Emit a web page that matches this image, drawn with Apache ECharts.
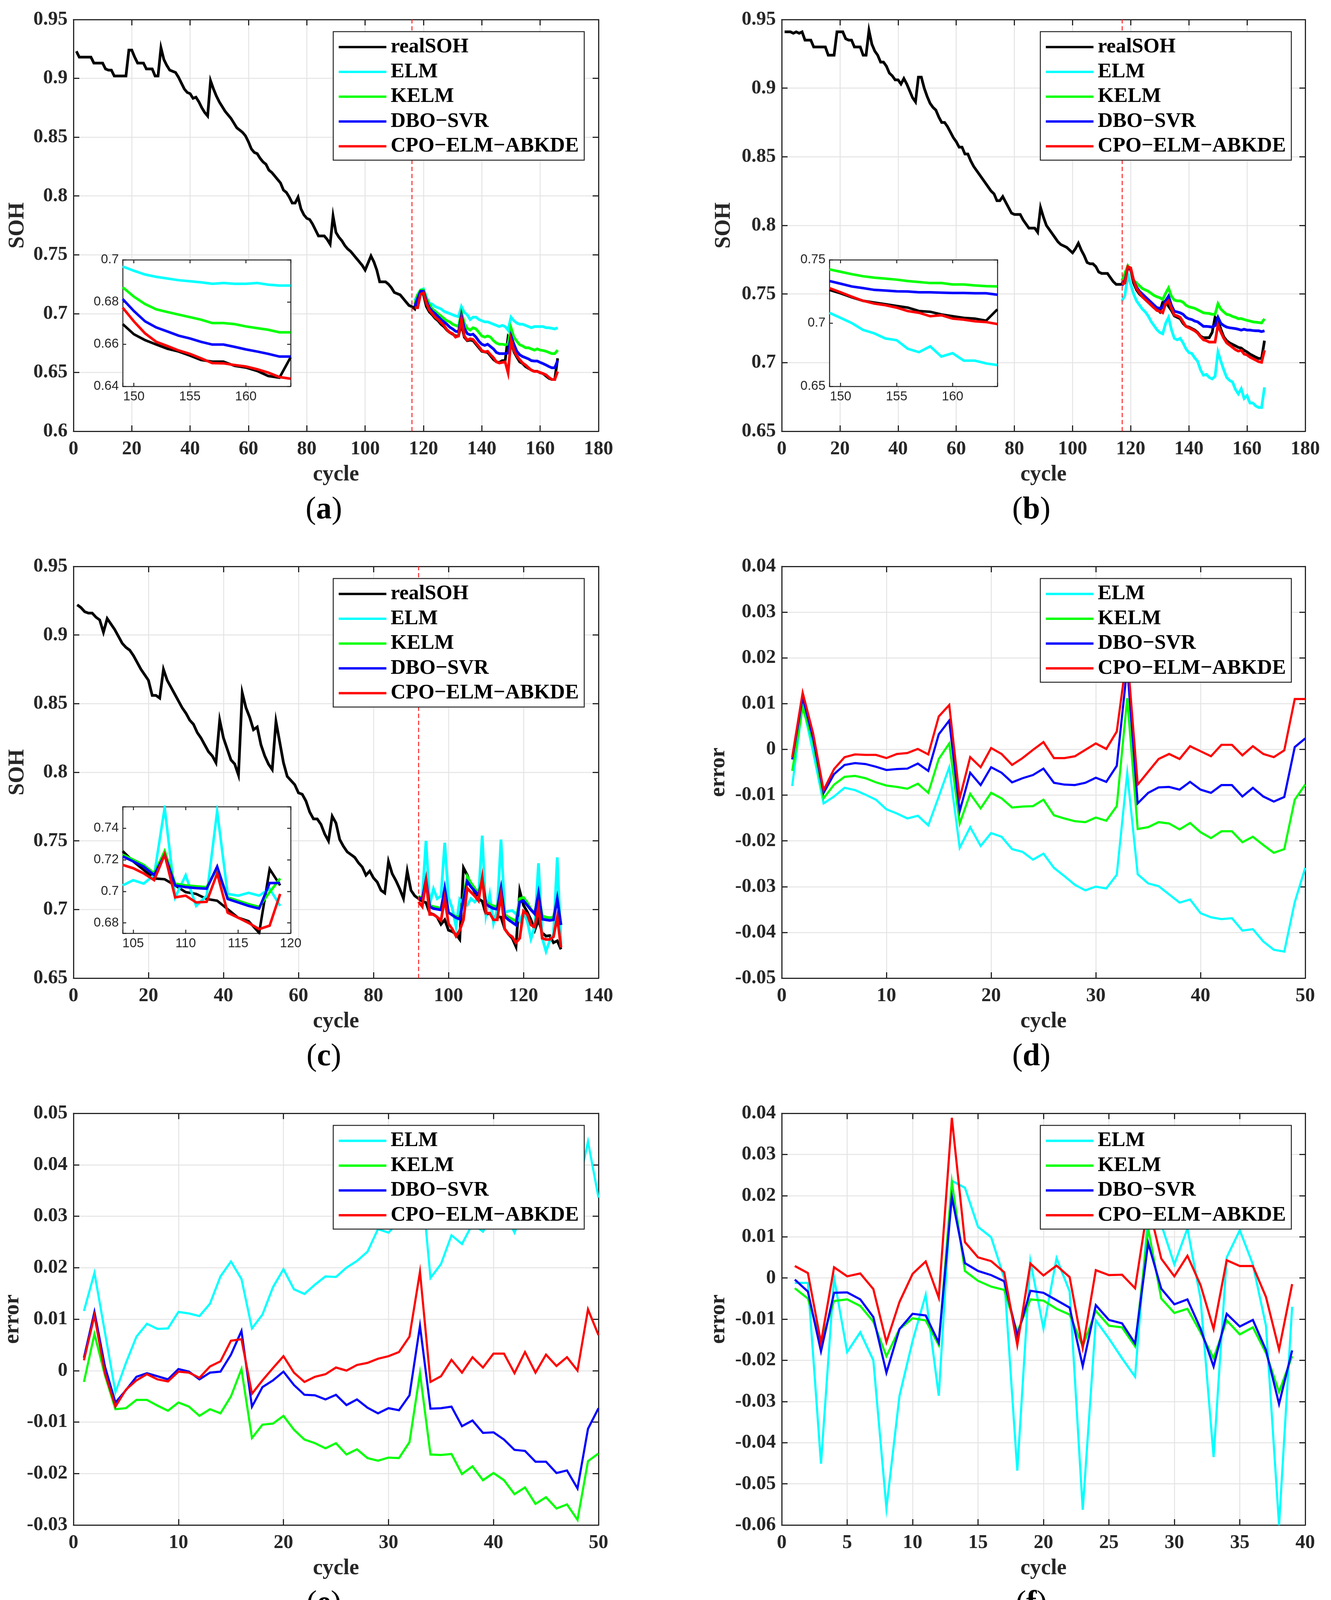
<!DOCTYPE html>
<html>
<head>
<meta charset="utf-8">
<script src="https://cdn.jsdelivr.net/npm/echarts@6/dist/echarts.min.js"></script>
<style>
html,body{margin:0;padding:0;background:#ffffff;}
#chart{width:3407px;height:4162px;}
</style>
</head>
<body>
<div id="chart"></div>
<script>
// ---------------- DATA ----------------
const seriesNames = ['realSOH', 'ELM', 'KELM', 'DBO\u2212SVR', 'CPO\u2212ELM\u2212ABKDE'];
const errorNames = ['ELM', 'KELM', 'DBO\u2212SVR', 'CPO\u2212ELM\u2212ABKDE'];
const panelLetters = ['a', 'b', 'c', 'd', 'e', 'f'];

// (a) real SOH, cycles 1..166
const realA = [
0.923,0.918,0.918,0.918,0.918,0.918,0.913,0.913,0.913,0.913,
0.908,0.907,0.907,0.902,0.902,0.902,0.902,0.902,0.924,0.924,
0.918,0.913,0.913,0.913,0.908,0.908,0.908,0.902,0.902,0.926,
0.916,0.911,0.907,0.906,0.905,0.901,0.896,0.891,0.888,0.887,
0.883,0.884,0.880,0.875,0.871,0.868,0.898,0.891,0.885,0.880,
0.876,0.872,0.869,0.866,0.862,0.858,0.856,0.854,0.851,0.846,
0.840,0.837,0.836,0.832,0.829,0.827,0.822,0.820,0.817,0.814,
0.811,0.805,0.803,0.799,0.794,0.794,0.799,0.789,0.784,0.781,
0.780,0.776,0.771,0.766,0.766,0.766,0.763,0.759,0.783,0.769,
0.765,0.762,0.758,0.755,0.753,0.750,0.747,0.744,0.741,0.737,
0.743,0.749,0.744,0.737,0.727,0.727,0.727,0.725,0.722,0.718,
0.717,0.716,0.713,0.710,0.707,0.706,
0.704,0.716,0.719,0.716,0.706,0.7015,0.699,0.696,0.694,0.691,
0.689,0.686,0.684,0.6825,0.681,0.681,0.691,0.680,0.677,0.6775,
0.677,0.674,0.671,0.668,0.6675,0.667,0.664,0.661,0.659,0.6585,
0.660,0.660,0.680,0.676,0.6675,0.663,0.659,0.6575,0.655,0.6535,
0.652,0.651,0.651,0.6497,0.649,0.647,0.645,0.644,0.644,0.662];
const predStartA = 117;
const elmA = [
0.711,0.716,0.720,0.721,0.714,0.709,0.708,0.706,0.705,0.704,
0.702,0.701,0.700,0.699,0.698,0.6975,0.706,0.701,0.699,0.695,
0.697,0.697,0.695,0.694,0.693,0.693,0.692,0.691,0.690,0.689,
0.690,0.689,0.686,0.697,0.694,0.692,0.691,0.691,0.690,0.689,
0.688,0.689,0.689,0.689,0.689,0.688,0.688,0.6875,0.687,0.688];
const kelmA = [
0.708,0.716,0.720,0.720,0.713,0.708,0.704,0.702,0.700,0.698,
0.696,0.694,0.693,0.691,0.690,0.689,0.701,0.692,0.6875,0.686,
0.688,0.687,0.684,0.681,0.680,0.681,0.680,0.677,0.675,0.674,
0.674,0.6735,0.674,0.688,0.680,0.6765,0.6735,0.6725,0.671,0.671,
0.670,0.669,0.670,0.669,0.6686,0.668,0.667,0.666,0.666,0.669];
const dboA = [
0.706,0.713,0.719,0.719,0.711,0.705,0.702,0.700,0.6975,0.695,
0.693,0.691,0.6885,0.687,0.685,0.6845,0.6985,0.6875,0.683,0.682,
0.6825,0.680,0.6765,0.674,0.673,0.674,0.672,0.670,0.667,0.666,
0.666,0.666,0.6665,0.681,0.674,0.668,0.665,0.6635,0.6625,0.6615,
0.660,0.6597,0.6597,0.6585,0.6575,0.6563,0.655,0.654,0.654,0.660];
const cpoA = [
0.705,0.705,0.7165,0.7176,0.709,0.703,0.700,0.697,0.695,0.6925,
0.690,0.6865,0.684,0.683,0.680,0.681,0.6953,0.681,0.6775,0.6786,
0.678,0.675,0.672,0.6686,0.6675,0.668,0.665,0.6625,0.659,0.658,
0.6585,0.659,0.6497,0.6775,0.6686,0.6641,0.6608,0.658,0.6563,0.654,
0.6519,0.6508,0.6508,0.650,0.649,0.648,0.6458,0.644,0.644,0.6508];

// (b) real SOH, cycles 1..166
const realB = [
0.941,0.941,0.941,0.940,0.941,0.940,0.941,0.935,0.935,0.935,
0.930,0.930,0.930,0.930,0.930,0.924,0.924,0.924,0.941,0.941,
0.941,0.936,0.935,0.935,0.930,0.930,0.930,0.924,0.924,0.942,
0.932,0.927,0.924,0.919,0.919,0.916,0.911,0.909,0.906,0.906,
0.903,0.907,0.903,0.898,0.893,0.890,0.908,0.908,0.900,0.894,
0.889,0.886,0.884,0.879,0.875,0.875,0.872,0.868,0.864,0.861,
0.857,0.857,0.852,0.852,0.847,0.843,0.840,0.837,0.834,0.831,
0.828,0.825,0.823,0.818,0.818,0.821,0.817,0.813,0.809,0.808,
0.808,0.808,0.804,0.801,0.798,0.798,0.798,0.795,0.813,0.806,
0.800,0.797,0.794,0.791,0.788,0.786,0.785,0.784,0.782,0.780,
0.783,0.787,0.782,0.778,0.773,0.772,0.772,0.770,0.766,0.765,
0.765,0.765,0.762,0.759,0.757,0.757,0.757,
0.765,0.770,0.767,0.758,0.753,0.750,0.748,0.746,0.744,0.742,
0.740,0.739,0.737,0.744,0.745,0.741,0.738,0.7341,0.733,0.732,
0.7286,0.7264,0.7259,0.7248,0.7237,0.722,0.7193,0.7182,0.7182,0.7182,
0.722,0.733,0.7308,0.7243,0.7188,0.716,0.7144,0.7133,0.7122,0.7111,
0.7106,0.709,0.7078,0.7062,0.7051,0.704,0.703,0.703,0.716];
const predStartB = 117;
const elmB = [
0.745,0.749,0.764,0.757,0.750,0.745,0.742,0.739,0.737,0.734,
0.730,0.727,0.724,0.722,0.721,0.7286,0.733,0.724,0.7177,0.7166,
0.7177,0.7144,0.710,0.7073,0.7067,0.7035,0.701,0.6947,0.6908,0.6914,
0.6892,0.6881,0.690,0.7078,0.701,0.6947,0.6892,0.687,0.6859,0.6805,
0.6772,0.681,0.6739,0.676,0.6706,0.6706,0.6684,0.6673,0.6673,0.682];
const kelmB = [
0.760,0.765,0.7705,0.767,0.760,0.758,0.756,0.754,0.753,0.752,
0.7505,0.749,0.748,0.7473,0.746,0.7505,0.7544,0.7484,0.7456,0.745,
0.745,0.744,0.7418,0.7407,0.7401,0.7396,0.7385,0.7374,0.7363,0.736,
0.7358,0.7352,0.7352,0.7429,0.739,0.7369,0.7352,0.7347,0.7336,0.733,
0.732,0.7321,0.7314,0.7308,0.7303,0.7297,0.7295,0.7292,0.7289,0.732];
const dboB = [
0.756,0.760,0.769,0.768,0.760,0.755,0.752,0.750,0.748,0.746,
0.744,0.742,0.740,0.7396,0.7401,0.745,0.7484,0.7418,0.7374,0.7369,
0.7363,0.7352,0.733,0.7319,0.7314,0.7303,0.7297,0.7281,0.7264,0.7264,
0.7262,0.7259,0.727,0.733,0.7286,0.727,0.7259,0.7254,0.7251,0.7248,
0.7243,0.7237,0.7243,0.7237,0.7237,0.7234,0.7232,0.7232,0.7226,0.7232];
const cpoB = [
0.757,0.758,0.770,0.769,0.760,0.754,0.751,0.748,0.746,0.744,
0.742,0.740,0.738,0.7374,0.7363,0.7429,0.745,0.7396,0.7347,0.7341,
0.733,0.7297,0.7264,0.7254,0.7243,0.7232,0.7215,0.7188,0.7166,0.716,
0.715,0.715,0.715,0.7275,0.7221,0.7177,0.7144,0.7128,0.7111,0.7095,
0.7084,0.709,0.7062,0.7056,0.704,0.7029,0.7018,0.7007,0.7002,0.709];

// (c) real SOH, cycles 1..130
const realC = [
0.922,0.920,0.917,0.916,0.916,0.913,0.911,0.902,0.912,0.908,
0.904,0.899,0.894,0.891,0.889,0.885,0.880,0.875,0.871,0.867,
0.856,0.856,0.854,0.875,0.867,0.862,0.857,0.852,0.847,0.843,
0.838,0.835,0.829,0.825,0.820,0.815,0.812,0.807,0.838,0.825,
0.817,0.809,0.806,0.798,0.858,0.847,0.840,0.831,0.833,0.820,
0.812,0.806,0.802,0.837,0.822,0.807,0.797,0.794,0.791,0.785,
0.784,0.779,0.771,0.766,0.766,0.762,0.755,0.750,0.768,0.763,
0.751,0.746,0.742,0.740,0.738,0.734,0.731,0.725,0.728,0.723,
0.720,0.714,0.712,0.735,0.726,0.721,0.715,0.708,0.728,0.714,
0.710,0.708,
0.706,0.705,0.6973,0.6964,0.6944,0.6892,0.6925,0.6849,0.6839,0.682,
0.6782,0.7304,0.7251,0.7174,0.7126,0.7079,0.706,0.6964,0.6973,0.6944,
0.6949,0.6944,0.6858,0.682,0.6791,0.6729,0.7136,0.7031,0.6983,0.6925,
0.6849,0.6925,0.683,0.6806,0.681,0.6758,0.6772,0.671];
const predStartC = 92;
const elmC = [
0.7088,0.7079,0.750,0.704,0.715,0.7079,0.7098,0.7486,0.7088,0.7011,
0.6877,0.7074,0.704,0.7031,0.7079,0.7055,0.7088,0.7538,0.6964,0.7107,
0.6901,0.7002,0.751,0.6978,0.6988,0.6992,0.6968,0.6916,0.6978,0.6916,
0.6786,0.6877,0.7337,0.6791,0.6695,0.6772,0.682,0.738,0.6743];
const kelmC = [
0.7098,0.7079,0.7203,0.7031,0.7021,0.7016,0.7007,0.7136,0.6978,0.6964,
0.6949,0.6944,0.7088,0.7241,0.7193,0.7155,0.7117,0.7222,0.7059,0.7035,
0.7026,0.7021,0.7155,0.6964,0.6944,0.693,0.6916,0.7079,0.7088,0.705,
0.7002,0.6973,0.7117,0.6954,0.6944,0.694,0.6944,0.7079,0.6887];
const dboC = [
0.7088,0.7074,0.7217,0.7021,0.7007,0.7002,0.6997,0.7155,0.6978,0.6959,
0.694,0.693,0.7074,0.7203,0.7165,0.7136,0.7103,0.7213,0.704,0.7021,
0.7007,0.7002,0.7155,0.6949,0.6925,0.6906,0.6887,0.7055,0.7064,0.7031,
0.6997,0.6968,0.7117,0.693,0.6925,0.6921,0.6925,0.7079,0.6887];
const cpoC = [
0.7056,0.7021,0.7208,0.6964,0.6964,0.6944,0.692,0.7079,0.6897,0.6858,
0.6806,0.6849,0.6925,0.7155,0.7126,0.7098,0.7064,0.7232,0.6973,0.6973,
0.6925,0.6925,0.7107,0.6858,0.682,0.6801,0.6758,0.6791,0.6988,0.6964,
0.6887,0.6873,0.7016,0.6791,0.6782,0.6782,0.6801,0.6944,0.6724];

// insets
const insetStartA = 149;
const insetRealA = [0.6695,0.6647,0.6619,0.6598,0.6578,0.6565,0.6546,0.6525,0.6517,0.6517,0.6497,0.6489,0.6473,0.6449,0.6441,0.6538];
const insetElmA  = [0.6968,0.6948,0.6930,0.6919,0.6911,0.6903,0.6898,0.6893,0.6886,0.6890,0.6886,0.6886,0.6890,0.6882,0.6878,0.6878];
const insetKelmA = [0.6870,0.6825,0.6790,0.6765,0.6752,0.6740,0.6728,0.6716,0.6700,0.6700,0.6695,0.6684,0.6676,0.6668,0.6656,0.6656];
const insetDboA  = [0.6814,0.6757,0.6708,0.6679,0.6660,0.6640,0.6627,0.6611,0.6598,0.6598,0.6587,0.6575,0.6565,0.6554,0.6541,0.6541];
const insetCpoA  = [0.6773,0.6708,0.6651,0.6611,0.6591,0.6570,0.6554,0.6533,0.6510,0.6509,0.6501,0.6494,0.6481,0.6465,0.6444,0.6436];

const insetStartB = 149;
const insetRealB = [0.7262,0.7235,0.7203,0.7176,0.7162,0.7149,0.7135,0.7122,0.7095,0.7089,0.7068,0.7054,0.7041,0.7035,0.7019,0.7108];
const insetElmB  = [0.7081,0.7041,0.7000,0.6946,0.6919,0.6878,0.6865,0.6797,0.6770,0.6816,0.6735,0.6762,0.6703,0.6703,0.6681,0.6668];
const insetKelmB = [0.7424,0.7405,0.7386,0.7370,0.7359,0.7351,0.7343,0.7332,0.7324,0.7316,0.7316,0.7305,0.7305,0.7297,0.7292,0.7289];
const insetDboB  = [0.7332,0.7311,0.7289,0.7276,0.7262,0.7257,0.7251,0.7249,0.7243,0.7243,0.7240,0.7238,0.7238,0.7235,0.7235,0.7224];
const insetCpoB  = [0.7276,0.7243,0.7208,0.7176,0.7154,0.7141,0.7122,0.7095,0.7081,0.7054,0.7062,0.7035,0.7027,0.7014,0.7008,0.6992];

const insetStartC = 104;
const insetRealC = [0.7255,0.7190,0.7136,0.7082,0.7077,0.7038,0.6995,0.6984,0.6952,0.6941,0.6887,0.6833,0.6811,0.6737,0.7142,0.7038];
const insetElmC  = [0.7038,0.7071,0.7049,0.7103,0.7530,0.6962,0.7103,0.6908,0.6973,0.7508,0.6984,0.6973,0.6991,0.6973,0.7017,0.6908];
const insetKelmC = [0.7233,0.7201,0.7168,0.7114,0.7255,0.7049,0.7038,0.7032,0.7027,0.7147,0.6962,0.6941,0.6919,0.6902,0.6995,0.7082];
const insetDboC  = [0.7222,0.7190,0.7157,0.7103,0.7233,0.7038,0.7027,0.7021,0.7017,0.7157,0.6952,0.6930,0.6908,0.6891,0.7053,0.7053];
const insetCpoC  = [0.7168,0.7147,0.7114,0.7071,0.7233,0.6962,0.6973,0.6930,0.6934,0.7114,0.6865,0.6833,0.6800,0.6761,0.6783,0.6984];

// (d) errors, 50 points
const elmErrD = [
-0.0080,0.0098,-0.0006,-0.0118,-0.0103,-0.0084,-0.0089,-0.0099,-0.0110,-0.0131,
-0.0140,-0.0151,-0.0145,-0.0166,-0.0103,-0.0039,-0.0215,-0.0170,-0.0211,-0.0183,
-0.0191,-0.0218,-0.0224,-0.0241,-0.0228,-0.0259,-0.0277,-0.0296,-0.0308,-0.0300,
-0.0304,-0.0274,-0.0052,-0.0273,-0.0293,-0.0299,-0.0317,-0.0335,-0.0328,-0.0358,
-0.0367,-0.0371,-0.0369,-0.0396,-0.0393,-0.0420,-0.0438,-0.0442,-0.0334,-0.0259];
const kelmErrD = [
-0.0047,0.0091,0.0016,-0.0107,-0.0077,-0.0060,-0.0058,-0.0063,-0.0072,-0.0079,
-0.0082,-0.0086,-0.0075,-0.0095,-0.0021,0.0013,-0.0162,-0.0097,-0.0129,-0.0095,
-0.0107,-0.0127,-0.0125,-0.0124,-0.0110,-0.0144,-0.0151,-0.0157,-0.0159,-0.0149,
-0.0156,-0.0124,0.0112,-0.0174,-0.0170,-0.0159,-0.0162,-0.0175,-0.0161,-0.0181,
-0.0194,-0.0179,-0.0179,-0.0203,-0.0191,-0.0209,-0.0226,-0.0218,-0.0110,-0.0077];
const dboErrD = [
-0.0022,0.0113,0.0024,-0.0095,-0.0054,-0.0034,-0.0030,-0.0032,-0.0038,-0.0045,
-0.0043,-0.0042,-0.0031,-0.0047,0.0033,0.0063,-0.0135,-0.0051,-0.0078,-0.0039,
-0.0051,-0.0072,-0.0063,-0.0056,-0.0042,-0.0073,-0.0077,-0.0078,-0.0073,-0.0062,
-0.0071,-0.0036,0.0180,-0.0118,-0.0095,-0.0083,-0.0082,-0.0088,-0.0071,-0.0088,
-0.0095,-0.0078,-0.0078,-0.0103,-0.0084,-0.0103,-0.0114,-0.0104,0.0005,0.0024];
const cpoErrD = [
-0.0017,0.0124,0.0035,-0.0089,-0.0043,-0.0017,-0.0011,-0.0012,-0.0012,-0.0019,
-0.0010,-0.0008,0.0001,-0.0011,0.0072,0.0097,-0.0107,-0.0017,-0.0039,0.0003,
-0.0010,-0.0034,-0.0019,-0.0001,0.0016,-0.0019,-0.0019,-0.0015,-0.0001,0.0013,
0.0001,0.0039,0.0210,-0.0077,-0.0049,-0.0021,-0.0010,-0.0021,0.0007,-0.0004,
-0.0015,0.0010,0.0010,-0.0013,0.0007,-0.0010,-0.0017,-0.0002,0.0110,0.0110];

// (e) errors, 50 points
const elmErrE = [
0.0116,0.0190,0.0074,-0.0042,0.0015,0.0066,0.0091,0.0081,0.0082,0.0114,
0.0111,0.0106,0.0130,0.0183,0.0212,0.0178,0.0082,0.0109,0.0162,0.0197,
0.0158,0.0149,0.0167,0.0183,0.0182,0.0200,0.0213,0.0231,0.0275,0.0268,
0.0290,0.0310,0.0400,0.0180,0.0207,0.0263,0.0246,0.0285,0.0270,0.0305,
0.0310,0.0268,0.0320,0.0330,0.0335,0.0345,0.0355,0.0350,0.0445,0.0336];
const kelmErrE = [
-0.0022,0.0071,-0.0009,-0.0075,-0.0073,-0.0057,-0.0057,-0.0068,-0.0078,-0.0062,
-0.0070,-0.0088,-0.0075,-0.0083,-0.0050,0.0003,-0.0131,-0.0105,-0.0103,-0.0088,
-0.0115,-0.0134,-0.0141,-0.0151,-0.0141,-0.0163,-0.0153,-0.0170,-0.0175,-0.0169,
-0.0170,-0.0139,-0.0005,-0.0163,-0.0164,-0.0162,-0.0201,-0.0186,-0.0213,-0.0199,
-0.0213,-0.0240,-0.0227,-0.0259,-0.0246,-0.0268,-0.0260,-0.0290,-0.0176,-0.0161];
const dboErrE = [
0.0025,0.0114,0.0008,-0.0062,-0.0038,-0.0012,-0.0005,-0.0011,-0.0017,0.0003,
-0.0002,-0.0017,-0.0004,-0.0002,0.0031,0.0077,-0.0070,-0.0032,-0.0019,-0.0002,
-0.0028,-0.0047,-0.0048,-0.0056,-0.0047,-0.0067,-0.0056,-0.0072,-0.0083,-0.0073,
-0.0077,-0.0048,0.0087,-0.0074,-0.0073,-0.0070,-0.0108,-0.0097,-0.0121,-0.0120,
-0.0134,-0.0154,-0.0156,-0.0177,-0.0177,-0.0199,-0.0194,-0.0229,-0.0113,-0.0073];
const cpoErrE = [
0.0020,0.0107,-0.0005,-0.0070,-0.0037,-0.0019,-0.0007,-0.0017,-0.0021,-0.0002,
-0.0004,-0.0014,0.0008,0.0018,0.0058,0.0061,-0.0045,-0.0019,0.0005,0.0028,
-0.0004,-0.0022,-0.0012,-0.0007,0.0006,0.0000,0.0011,0.0015,0.0023,0.0028,
0.0036,0.0066,0.0192,-0.0022,-0.0011,0.0021,-0.0004,0.0026,0.0006,0.0033,
0.0033,-0.0005,0.0036,-0.0004,0.0031,0.0009,0.0026,0.0000,0.0119,0.0069];

// (f) errors, 39 points
const elmErrF = [
-0.0012,-0.0012,-0.0451,0.0000,-0.0180,-0.0132,-0.0200,-0.0559,-0.0286,-0.0153,
-0.0041,-0.0286,0.0236,0.0219,0.0124,0.0099,0.0000,-0.0468,0.0041,-0.0123,
0.0048,-0.0033,-0.0563,-0.0103,-0.0147,-0.0195,-0.0240,0.0160,0.0130,0.0033,
0.0120,-0.0050,-0.0435,0.0050,0.0116,0.0033,-0.0116,-0.0600,-0.0070];
const kelmErrF = [
-0.0025,-0.0050,-0.0157,-0.0056,-0.0052,-0.0068,-0.0106,-0.0190,-0.0124,-0.0098,
-0.0103,-0.0163,0.0233,0.0017,-0.0007,-0.0021,-0.0029,-0.0132,-0.0052,-0.0055,
-0.0075,-0.0089,-0.0166,-0.0080,-0.0116,-0.0120,-0.0166,0.0120,-0.0050,-0.0085,
-0.0075,-0.0132,-0.0195,-0.0103,-0.0137,-0.0120,-0.0182,-0.0277,-0.0190];
const dboErrF = [
-0.0004,-0.0033,-0.0178,-0.0036,-0.0035,-0.0052,-0.0095,-0.0230,-0.0124,-0.0087,
-0.0091,-0.0157,0.0197,0.0036,0.0017,0.0007,-0.0008,-0.0141,-0.0031,-0.0036,
-0.0054,-0.0072,-0.0214,-0.0066,-0.0102,-0.0110,-0.0159,0.0085,-0.0026,-0.0064,
-0.0052,-0.0123,-0.0215,-0.0087,-0.0118,-0.0102,-0.0175,-0.0306,-0.0176];
const cpoErrF = [
0.0029,0.0012,-0.0157,0.0026,0.0004,0.0011,-0.0027,-0.0156,-0.0058,0.0010,
0.0040,-0.0048,0.0389,0.0087,0.0050,0.0041,0.0014,-0.0163,0.0035,0.0006,
0.0030,0.0002,-0.0170,0.0019,0.0007,0.0008,-0.0025,0.0180,0.0047,0.0004,
0.0054,-0.0017,-0.0124,0.0043,0.0029,0.0029,-0.0046,-0.0174,-0.0015];

// ---------------- STYLE / LAYOUT ----------------
const SERIF = '"Liberation Serif","Times New Roman",serif';
const SANS = '"Liberation Sans",Arial,sans-serif';
const AX = '#262626';
const GRIDC = '#e4e4e4';
const COLORS = ['#000000', '#00ffff', '#00ff00', '#0000ff', '#ff0000'];
const ERR_COLORS = COLORS.slice(1);
const COL_LEFT = [188, 2001];
const COL_WIDTH = [1344, 1340];
const ROW_TOP = [50, 1450, 2850];
const PLOT_H = 1054;

const option = {
  animation: false,
  backgroundColor: '#ffffff',
  grid: [], xAxis: [], yAxis: [], series: [], legend: [], graphic: []
};

function pairs(start, arr) { return arr.map((v, i) => [start + i, v]); }

function addBoxAxes(g, xr, yr, st) {
  const inset = !!st.inset;
  const ls = { color: AX, width: inset ? 2.5 : 3 };
  const tick = { show: true, inside: true, length: inset ? 9 : 15, lineStyle: ls };
  const lab = inset
    ? { fontFamily: SANS, fontSize: 33, fontWeight: 'normal', color: AX }
    : { fontFamily: SERIF, fontSize: 50, fontWeight: 'bold', color: AX };
  const split = { show: !inset, lineStyle: { color: GRIDC, width: 2.5 } };
  const z = inset ? 4 : 1;
  const nameStyle = { fontFamily: SERIF, fontSize: 56, fontWeight: 'bold', color: AX };
  const xi = option.xAxis.length, yi = option.yAxis.length;
  const xl = Object.assign({ show: true, margin: inset ? 10 : 21 }, lab);
  if (st.xFmt) xl.formatter = st.xFmt;
  const yl = Object.assign({ show: true, margin: inset ? 10 : 15 }, lab);
  if (st.yFmt) yl.formatter = st.yFmt;
  option.xAxis.push(Object.assign({
    type: 'value', gridIndex: g, position: 'bottom', z: z,
    axisLine: { show: true, onZero: false, lineStyle: ls }, axisTick: tick,
    axisLabel: xl, splitLine: split,
    name: st.xName || '', nameLocation: 'middle', nameGap: st.xNameGap || 0, nameTextStyle: nameStyle
  }, xr));
  option.xAxis.push(Object.assign({
    type: 'value', gridIndex: g, position: 'top', z: z,
    axisLine: { show: true, onZero: false, lineStyle: ls }, axisTick: tick,
    axisLabel: { show: false }, splitLine: { show: false }
  }, xr));
  option.yAxis.push(Object.assign({
    type: 'value', gridIndex: g, position: 'left', z: z,
    axisLine: { show: true, onZero: false, lineStyle: ls }, axisTick: tick,
    axisLabel: yl, splitLine: split,
    name: st.yName || '', nameLocation: 'middle', nameGap: st.yNameGap || 0, nameTextStyle: nameStyle
  }, yr));
  option.yAxis.push(Object.assign({
    type: 'value', gridIndex: g, position: 'right', z: z,
    axisLine: { show: true, onZero: false, lineStyle: ls }, axisTick: tick,
    axisLabel: { show: false }, splitLine: { show: false }
  }, yr));
  return [xi, yi];
}

function addLine(name, color, xi, yi, data, width, z, markLine) {
  const s = {
    type: 'line', name: name, xAxisIndex: xi, yAxisIndex: yi, data: data,
    showSymbol: false, symbol: 'none', color: color,
    lineStyle: { color: color, width: width, join: 'miter' },
    itemStyle: { color: color }, z: z, silent: true, clip: true,
    emphasis: { disabled: true }
  };
  if (markLine) s.markLine = markLine;
  option.series.push(s);
}

function addLegend(col, row, names) {
  option.legend.push({
    left: col === 0 ? 853 : 2663, top: ROW_TOP[row] + 31,
    orient: 'vertical', data: names, icon: 'rect',
    itemWidth: 122, itemHeight: 6, itemGap: 10.5,
    padding: [13, 14, 9, 14],
    borderColor: AX, borderWidth: 2.5, borderRadius: 0, backgroundColor: '#ffffff',
    selectedMode: false, z: 6,
    textStyle: { fontFamily: SERIF, fontSize: 53, fontWeight: 'bold', color: '#000000', lineHeight: 53, padding: [0, 0, 0, 6] }
  });
}

function addPanelLabel(col, row, letter) {
  option.graphic.push({
    type: 'text', z: 10,
    x: COL_LEFT[col] + COL_WIDTH[col] / 2 - 31, y: ROW_TOP[row] + 1256,
    style: {
      text: '{p|(}{b|' + letter + '}{p|)}', align: 'center', verticalAlign: 'middle',
      rich: {
        p: { fontFamily: SERIF, fontSize: 80, fontWeight: 'normal', fill: '#000000', color: '#000000' },
        b: { fontFamily: SERIF, fontSize: 80, fontWeight: 'bold', fill: '#000000', color: '#000000' }
      }
    }
  });
}

function sohPanel(col, row, letter, xMax, yMin, yNameGap, real, preds, predStart, splitAt) {
  const g = option.grid.length;
  option.grid.push({ left: COL_LEFT[col], top: ROW_TOP[row], width: COL_WIDTH[col], height: PLOT_H, show: false });
  const [xi, yi] = addBoxAxes(g,
    { min: 0, max: xMax, interval: 20 },
    { min: yMin, max: 0.95, interval: 0.05 },
    { xName: 'cycle', xNameGap: 84, yName: 'SOH', yNameGap: yNameGap });
  addLine(seriesNames[0], COLORS[0], xi, yi, pairs(1, real), 7, 2, {
    silent: true, symbol: ['none', 'none'], label: { show: false },
    lineStyle: { color: '#ff2020', type: [11, 7], width: 2.5 },
    data: [{ xAxis: splitAt }]
  });
  preds.forEach((arr, k) => addLine(seriesNames[k + 1], COLORS[k + 1], xi, yi, pairs(predStart, arr), 7, 2));
  addLegend(col, row, seriesNames);
  addPanelLabel(col, row, letter);
}

function errPanel(col, row, letter, xMax, xInt, yMin, yMax, yNameGap, errs) {
  const g = option.grid.length;
  option.grid.push({ left: COL_LEFT[col], top: ROW_TOP[row], width: COL_WIDTH[col], height: PLOT_H, show: false });
  const [xi, yi] = addBoxAxes(g,
    { min: 0, max: xMax, interval: xInt },
    { min: yMin, max: yMax, interval: 0.01 },
    { xName: 'cycle', xNameGap: 84, yName: 'error', yNameGap: yNameGap });
  errs.forEach((arr, k) => addLine(errorNames[k], ERR_COLORS[k], xi, yi, pairs(1, arr), 5.5, 2));
  addLegend(col, row, errorNames);
  addPanelLabel(col, row, letter);
}

function stepFmt(step, dec) {
  return function (v) {
    const r = v / step;
    if (Math.abs(r - Math.round(r)) > 1e-6) return '';
    return String(+v.toFixed(dec));
  };
}

function insetPanel(left, top, xMin, xMax, yMin, yMax, yStep, start, arrs) {
  const g = option.grid.length;
  option.grid.push({ left: left, top: top, width: 430, height: 324, show: true, backgroundColor: '#ffffff', borderWidth: 0, z: 3 });
  const [xi, yi] = addBoxAxes(g,
    { min: xMin, max: xMax, minInterval: 5, maxInterval: 5 },
    { min: yMin, max: yMax, minInterval: yStep, maxInterval: yStep },
    { inset: true, xFmt: stepFmt(5, 0), yFmt: stepFmt(yStep, 2) });
  arrs.forEach((arr, k) => addLine(seriesNames[k], COLORS[k], xi, yi, pairs(start, arr), 6.5, 5));
}

sohPanel(0, 0, panelLetters[0], 180, 0.6, 114, realA, [elmA, kelmA, dboA, cpoA], predStartA, 116);
sohPanel(1, 0, panelLetters[1], 180, 0.65, 119, realB, [elmB, kelmB, dboB, cpoB], predStartB, 117);
sohPanel(0, 1, panelLetters[2], 140, 0.65, 114, realC, [elmC, kelmC, dboC, cpoC], predStartC, 92);
errPanel(1, 1, panelLetters[3], 50, 10, -0.05, 0.04, 133, [elmErrD, kelmErrD, dboErrD, cpoErrD]);
errPanel(0, 2, panelLetters[4], 50, 10, -0.03, 0.05, 127, [elmErrE, kelmErrE, dboErrE, cpoErrE]);
errPanel(1, 2, panelLetters[5], 40, 5, -0.06, 0.04, 133, [elmErrF, kelmErrF, dboErrF, cpoErrF]);

insetPanel(314, 665, 149, 164, 0.64, 0.70, 0.02, insetStartA, [insetRealA, insetElmA, insetKelmA, insetDboA, insetCpoA]);
insetPanel(2123, 665, 149, 164, 0.65, 0.75, 0.05, insetStartB, [insetRealB, insetElmB, insetKelmB, insetDboB, insetCpoB]);
insetPanel(314, 2065, 104, 120, 0.6735, 0.7537, 0.02, insetStartC, [insetRealC, insetElmC, insetKelmC, insetDboC, insetCpoC]);

const chart = echarts.init(document.getElementById('chart'), null, { renderer: 'canvas', width: 3407, height: 4162 });
chart.setOption(option);
</script>
</body>
</html>
